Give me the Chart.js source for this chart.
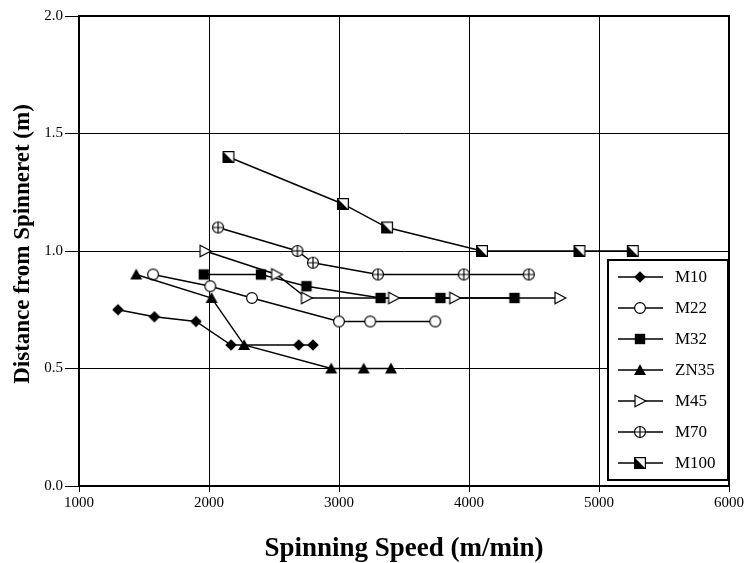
<!DOCTYPE html>
<html>
<head>
<meta charset="utf-8">
<script src="https://cdn.jsdelivr.net/npm/chart.js@4.4.1/dist/chart.umd.min.js"></script>
<style>
  body { margin: 0; background: #fff; }
  #wrap { width: 746px; height: 563px; }
</style>
</head>
<body>
<div id="wrap"><canvas id="myChart" width="746" height="563"></canvas></div>
<script>
// values (speed in m/min, distance in m)
var seriesNames = ['M10', 'M22', 'M32', 'ZN35', 'M45', 'M70', 'M100'];

var m10Speed = [1300, 1580, 1900, 2170, 2690, 2800];
var m10Dist = [0.75, 0.72, 0.70, 0.60, 0.60, 0.60];

var m22Speed = [1570, 2010, 2330, 3000, 3240, 3740];
var m22Dist = [0.90, 0.85, 0.80, 0.70, 0.70, 0.70];

var m32Speed = [1960, 2400, 2750, 3320, 3780, 4350];
var m32Dist = [0.90, 0.90, 0.85, 0.80, 0.80, 0.80];

var zn35Speed = [1440, 2020, 2270, 2940, 3190, 3400];
var zn35Dist = [0.90, 0.80, 0.60, 0.50, 0.50, 0.50];

var m45Speed = [1970, 2520, 2750, 3420, 3890, 4700];
var m45Dist = [1.00, 0.90, 0.80, 0.80, 0.80, 0.80];

var m70Speed = [2070, 2680, 2800, 3300, 3960, 4460];
var m70Dist = [1.10, 1.00, 0.95, 0.90, 0.90, 0.90];

var m100Speed = [2150, 3030, 3370, 4100, 4850, 5260];
var m100Dist = [1.40, 1.20, 1.10, 1.00, 1.00, 1.00];

var xTicks = [1000, 2000, 3000, 4000, 5000, 6000];
var yTicks = [0.0, 0.5, 1.0, 1.5, 2.0];

var SERIF = '"Liberation Serif", "Times New Roman", serif';

// little canvases used as point markers
function marker(kind) {
  var c = document.createElement('canvas');
  c.width = 16; c.height = 16;
  var g = c.getContext('2d');
  g.lineWidth = 1.2;
  g.strokeStyle = '#000';
  g.fillStyle = '#000';
  g.beginPath();
  if (kind == 'diamond') {
    g.moveTo(8, 2.2); g.lineTo(13.8, 8); g.lineTo(8, 13.8); g.lineTo(2.2, 8); g.closePath();
    g.fill();
  } else if (kind == 'circle') {
    g.arc(8, 8, 5.4, 0, Math.PI * 2);
    g.fillStyle = '#fff'; g.fill(); g.stroke();
  } else if (kind == 'square') {
    g.rect(2.8, 2.8, 10.4, 10.4); g.fill();
  } else if (kind == 'triangle') {
    g.moveTo(8, 2.3); g.lineTo(14, 13); g.lineTo(2, 13); g.closePath();
    g.fill();
  } else if (kind == 'tri-right') {
    g.moveTo(3, 2.2); g.lineTo(13.8, 8); g.lineTo(3, 13.8); g.closePath();
    g.fillStyle = '#fff'; g.fill(); g.stroke();
  } else if (kind == 'crosshair') {
    g.arc(8, 8, 5.5, 0, Math.PI * 2);
    g.fillStyle = '#fff'; g.fill(); g.stroke();
    g.beginPath();
    g.moveTo(2.5, 8); g.lineTo(13.5, 8);
    g.moveTo(8, 2.5); g.lineTo(8, 13.5);
    g.stroke();
  } else if (kind == 'halfsquare') {
    g.rect(2.6, 2.6, 10.8, 10.8);
    g.fillStyle = '#fff'; g.fill(); g.stroke();
    g.beginPath();
    g.moveTo(2.6, 2.6); g.lineTo(2.6, 13.4); g.lineTo(13.4, 13.4); g.closePath();
    g.fillStyle = '#000'; g.fill();
  }
  return c;
}

function pts(xs, ys) {
  return xs.map(function (x, i) { return { x: x, y: ys[i] }; });
}

var markers = ['diamond', 'circle', 'square', 'triangle', 'tri-right', 'crosshair', 'halfsquare'].map(marker);
var allData = [
  pts(m10Speed, m10Dist), pts(m22Speed, m22Dist), pts(m32Speed, m32Dist),
  pts(zn35Speed, zn35Dist), pts(m45Speed, m45Dist), pts(m70Speed, m70Dist),
  pts(m100Speed, m100Dist)
];

var datasets = seriesNames.map(function (name, i) {
  return {
    label: name,
    data: allData[i],
    showLine: true,
    borderColor: '#000',
    backgroundColor: '#000',
    borderWidth: 1.4,
    pointStyle: markers[i],
    pointRadius: 6,
    pointHoverRadius: 6,
    order: 7 - i
  };
});

// white page, frame, axis titles and the boxed legend inside the plot
var decor = {
  id: 'decor',
  beforeDraw: function (chart) {
    var ctx = chart.ctx;
    ctx.save();
    ctx.fillStyle = '#fff';
    ctx.fillRect(0, 0, chart.width, chart.height);
    ctx.restore();
  },
  afterDraw: function (chart) {
    var ctx = chart.ctx, a = chart.chartArea;
    ctx.save();
    ctx.strokeStyle = '#000';
    ctx.lineWidth = 2;
    ctx.strokeRect(a.left, a.top, a.right - a.left, a.bottom - a.top);

    // legend box
    var bx = 608, by = 260, bw = 120, bh = 220;
    ctx.fillStyle = '#fff';
    ctx.fillRect(bx, by, bw, bh);
    ctx.lineWidth = 2;
    ctx.strokeRect(bx, by, bw, bh);
    ctx.font = '17px ' + SERIF;
    ctx.textBaseline = 'middle';
    ctx.textAlign = 'left';
    chart.data.datasets.forEach(function (ds, i) {
      var y = 277 + i * 31;
      ctx.lineWidth = 1.4;
      ctx.beginPath();
      ctx.moveTo(618, y); ctx.lineTo(663, y);
      ctx.stroke();
      ctx.drawImage(ds.pointStyle, 640 - 8, y - 8);
      ctx.fillStyle = '#000';
      ctx.fillText(ds.label, 675, y + 1);
    });

    // axis titles
    ctx.font = 'bold 27px ' + SERIF;
    ctx.textAlign = 'center';
    ctx.fillText('Spinning Speed (m/min)', 404, 549);
    ctx.font = 'bold 23px ' + SERIF;
    ctx.translate(23, 244);
    ctx.rotate(-Math.PI / 2);
    ctx.fillText('Distance from Spinneret (m)', 0, 0);
    ctx.restore();
  }
};

new Chart(document.getElementById('myChart').getContext('2d'), {
  type: 'scatter',
  data: { datasets: datasets },
  plugins: [decor],
  options: {
    responsive: false,
    animation: false,
    layout: { padding: { top: 16, right: 16, left: 0, bottom: 0 } },
    plugins: {
      legend: { display: false },
      tooltip: { enabled: false }
    },
    scales: {
      x: {
        type: 'linear',
        min: 1000, max: 6000,
        afterFit: function (s) { s.height = 77; },
        afterBuildTicks: function (s) { s.ticks = xTicks.map(function (v) { return { value: v }; }); },
        ticks: {
          color: '#000', padding: 2, maxRotation: 0, autoSkip: false,
          font: { family: SERIF, size: 15 },
          callback: function (v) { return String(v); }
        },
        grid: { color: '#000', lineWidth: 1, tickLength: 6, drawTicks: true },
        border: { color: '#000', width: 2 }
      },
      y: {
        type: 'linear',
        min: 0, max: 2,
        afterFit: function (s) { s.width = 79; },
        afterBuildTicks: function (s) { s.ticks = yTicks.map(function (v) { return { value: v }; }); },
        ticks: {
          color: '#000', padding: 2, autoSkip: false,
          font: { family: SERIF, size: 15 },
          callback: function (v) { return Number(v).toFixed(1); }
        },
        grid: { color: '#000', lineWidth: 1, tickLength: 14, drawTicks: true },
        border: { color: '#000', width: 2 }
      }
    }
  }
});
</script>
</body>
</html>
